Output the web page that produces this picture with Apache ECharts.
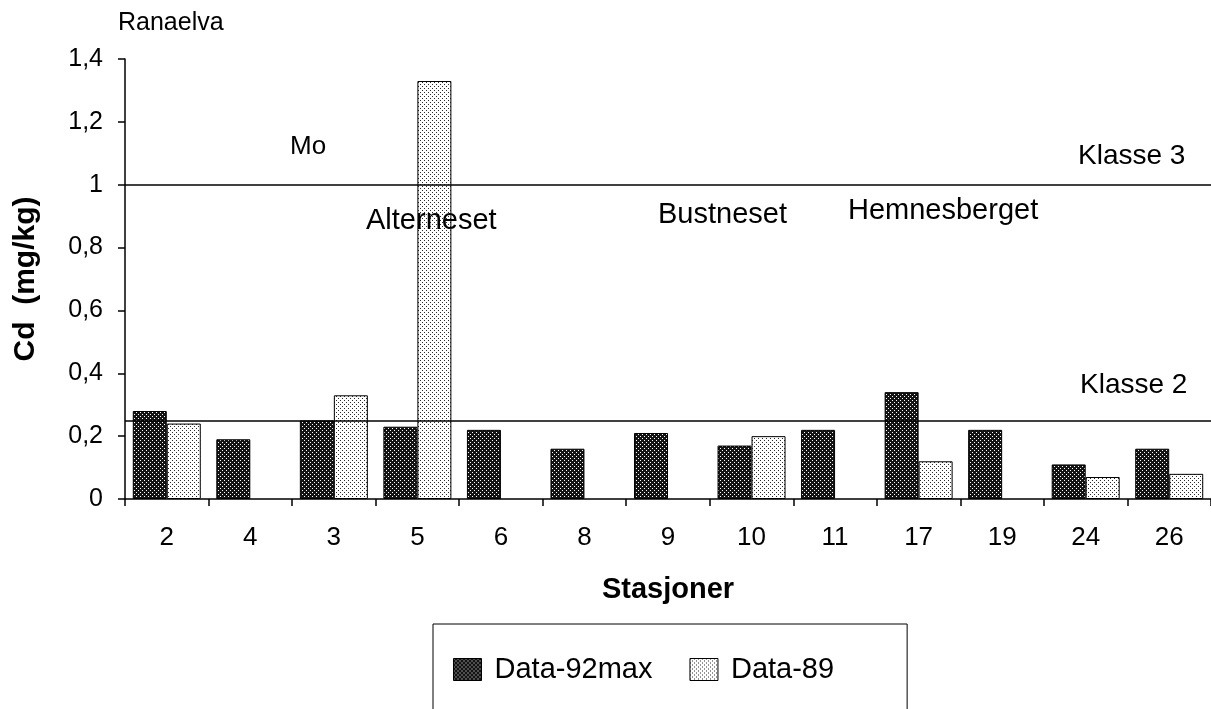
<!DOCTYPE html>
<html>
<head>
<meta charset="utf-8">
<script src="https://cdn.jsdelivr.net/npm/echarts@6/dist/echarts.min.js"></script>
<style>
html,body{margin:0;padding:0;background:#fff;}
#chart{width:1211px;height:709px;}
</style>
</head>
<body>
<div id="chart"></div>
<script>
// ---- data ----
var stations = ['2','4','3','5','6','8','9','10','11','17','19','24','26'];
var data92max = [0.28,0.19,0.25,0.23,0.22,0.16,0.21,0.17,0.22,0.34,0.22,0.11,0.16];
var data89 = [0.24,null,0.33,1.33,null,null,null,0.20,null,0.12,null,0.07,0.08];
var klasseValues = [1.0, 0.25];
var klasseNames = ['Klasse 3', 'Klasse 2'];
var yTicks = [0, 0.2, 0.4, 0.6, 0.8, 1.0, 1.2, 1.4];
var placeNames = ['Ranaelva','Mo','Alterneset','Bustneset','Hemnesberget'];

var FONT = "'Liberation Sans', Arial, Helvetica, sans-serif";

function makePattern(bg, dot, step) {
  var c = document.createElement('canvas');
  c.width = step * 2; c.height = step * 2;
  var g = c.getContext('2d');
  g.fillStyle = bg; g.fillRect(0, 0, c.width, c.height);
  g.fillStyle = dot;
  g.fillRect(0, 0, 1, 1);
  g.fillRect(step, step, 1, 1);
  return c;
}
var darkPat = makePattern('#141414', '#ffffff', 2);
var lightPat = makePattern('#ffffff', '#2a2a2a', 2);

var chart = echarts.init(document.getElementById('chart'), null, {renderer: 'canvas'});

var option = {
  animation: false,
  backgroundColor: '#ffffff',
  textStyle: {fontFamily: FONT, color: '#000'},
  grid: {left: 125, right: 0, top: 59, bottom: 210, containLabel: false},
  legend: {
    left: 433, top: 624,
    data: ['Data-92max', 'Data-89'],
    itemWidth: 28, itemHeight: 22,
    itemGap: 37,
    icon: 'rect',
    borderColor: '#000', borderWidth: 1,
    padding: [31, 73, 60, 20],
    textStyle: {fontFamily: FONT, fontSize: 29, color: '#000', padding: [0, 0, 0, 8]},
    itemStyle: {borderColor: '#000', borderWidth: 1}
  },
  xAxis: {
    type: 'category',
    data: stations,
    name: 'Stasjoner',
    nameLocation: 'middle',
    nameGap: 76,
    nameTextStyle: {fontFamily: FONT, fontSize: 29, fontWeight: 'bold', color: '#000'},
    axisLine: {lineStyle: {color: '#000', width: 1.5}},
    axisTick: {show: true, length: 7, alignWithLabel: false, lineStyle: {color: '#000', width: 1.5}},
    axisLabel: {margin: 26, fontFamily: FONT, fontSize: 26, color: '#000'}
  },
  yAxis: {
    type: 'value',
    min: 0, max: 1.4, interval: 0.2,
    name: 'Cd  (mg/kg)',
    nameLocation: 'middle',
    nameRotate: 90,
    nameGap: 84,
    nameTextStyle: {fontFamily: FONT, fontSize: 30, fontWeight: 'bold', color: '#000'},
    axisLine: {show: true, lineStyle: {color: '#000', width: 1.5}},
    axisTick: {show: true, length: 7, lineStyle: {color: '#000', width: 1.5}},
    splitLine: {show: false},
    axisLabel: {
      margin: 22, fontFamily: FONT, fontSize: 25, color: '#000',
      formatter: function (v) {
        var r = Math.round(v * 10) / 10;
        return String(r).replace('.', ',');
      }
    }
  },
  series: [
    {
      name: 'Data-92max',
      type: 'bar',
      data: data92max,
      barWidth: 34,
      barGap: '0%',
      itemStyle: {color: {image: darkPat, repeat: 'repeat'}, borderColor: '#000', borderWidth: 1},
      markLine: {
        silent: true,
        symbol: ['none', 'none'],
        label: {show: false},
        lineStyle: {color: '#000', width: 1.5, type: 'solid'},
        data: klasseValues.map(function (v) { return {yAxis: v}; })
      }
    },
    {
      name: 'Data-89',
      type: 'bar',
      data: data89,
      barWidth: 34,
      barGap: '0%',
      itemStyle: {color: {image: lightPat, repeat: 'repeat'}, borderColor: '#000', borderWidth: 1}
    }
  ],
  graphic: [
    {type: 'text', left: 118, top: 11, style: {text: placeNames[0], font: '25px ' + FONT, fill: '#000'}},
    {type: 'text', left: 290, top: 134, style: {text: placeNames[1], font: '26px ' + FONT, fill: '#000'}},
    {type: 'text', left: 366, top: 206, z: 10, style: {text: placeNames[2], font: '29px ' + FONT, fill: '#000'}},
    {type: 'text', left: 658, top: 200, style: {text: placeNames[3], font: '29px ' + FONT, fill: '#000'}},
    {type: 'text', left: 848, top: 196, style: {text: placeNames[4], font: '29px ' + FONT, fill: '#000'}},
    {type: 'text', left: 1078, top: 142, style: {text: klasseNames[0], font: '28px ' + FONT, fill: '#000'}},
    {type: 'text', left: 1080, top: 371, style: {text: klasseNames[1], font: '28px ' + FONT, fill: '#000'}}
  ]
};
chart.setOption(option);
</script>
</body>
</html>
